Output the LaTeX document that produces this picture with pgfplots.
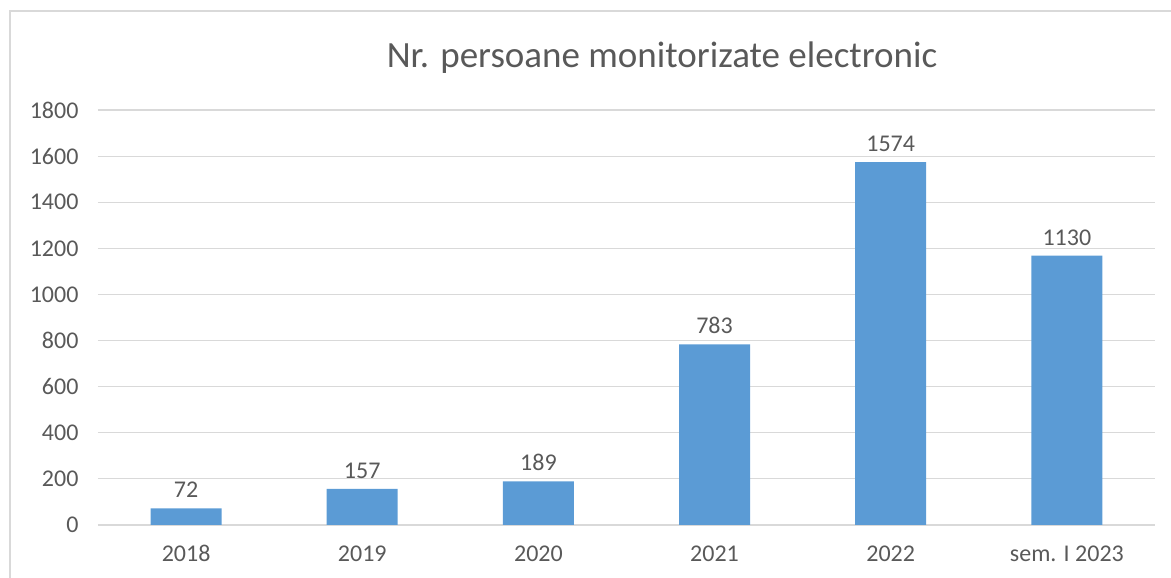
\documentclass[border=0pt]{standalone}
\usepackage{fontspec}
\setmainfont{Carlito}
\usepackage{pgfplots}
\pgfplotsset{compat=1.18}
\definecolor{barblue}{HTML}{5B9BD5}
\definecolor{gridgray}{HTML}{D9D9D9}
\definecolor{txt}{HTML}{595959}
\begin{document}
\begin{tikzpicture}
\path[use as bounding box] (0pt,0pt) rectangle (1171pt,578pt);
\draw[gridgray, line width=1.5pt] (10pt,0pt) -- (10pt,567pt) -- (1171pt,567pt);
\node[txt, font=\fontsize{37}{44}\selectfont, anchor=base, inner sep=0pt] at (662pt,510pt) {Nr. persoane monitorizate electronic};
\begin{axis}[
 at={(98pt,53pt)}, anchor=south west, scale only axis, width=1057pt, height=415pt,
 xmin=-0.5, xmax=5.5, ymin=0, ymax=1800, ytick={0,200,...,1800},
 xtick={0,...,5}, xticklabels={2018,2019,2020,2021,2022,sem. I 2023},
 axis line style={draw=none},
 ymajorgrids, grid style={gridgray, line width=1.2pt},
 major tick length=0pt,
 tick label style={txt, font=\fontsize{24}{28}\selectfont},
 yticklabel style={xshift=-16pt},
 xticklabel style={yshift=-17pt},
 /pgf/number format/assume math mode=true, /pgf/number format/1000 sep={},
 ybar, bar width=71pt,
 nodes near coords, point meta=explicit symbolic,
 every node near coord/.append style={txt, font=\fontsize{24}{28}\selectfont, yshift=7pt},
 clip=false
]
\addplot[fill=barblue, draw=none] table[meta=label] {
x y label
0 72 72
1 157 157
2 189 189
3 783 783
4 1574 1574
5 1168 1130
};
\end{axis}
\end{tikzpicture}
\end{document}
